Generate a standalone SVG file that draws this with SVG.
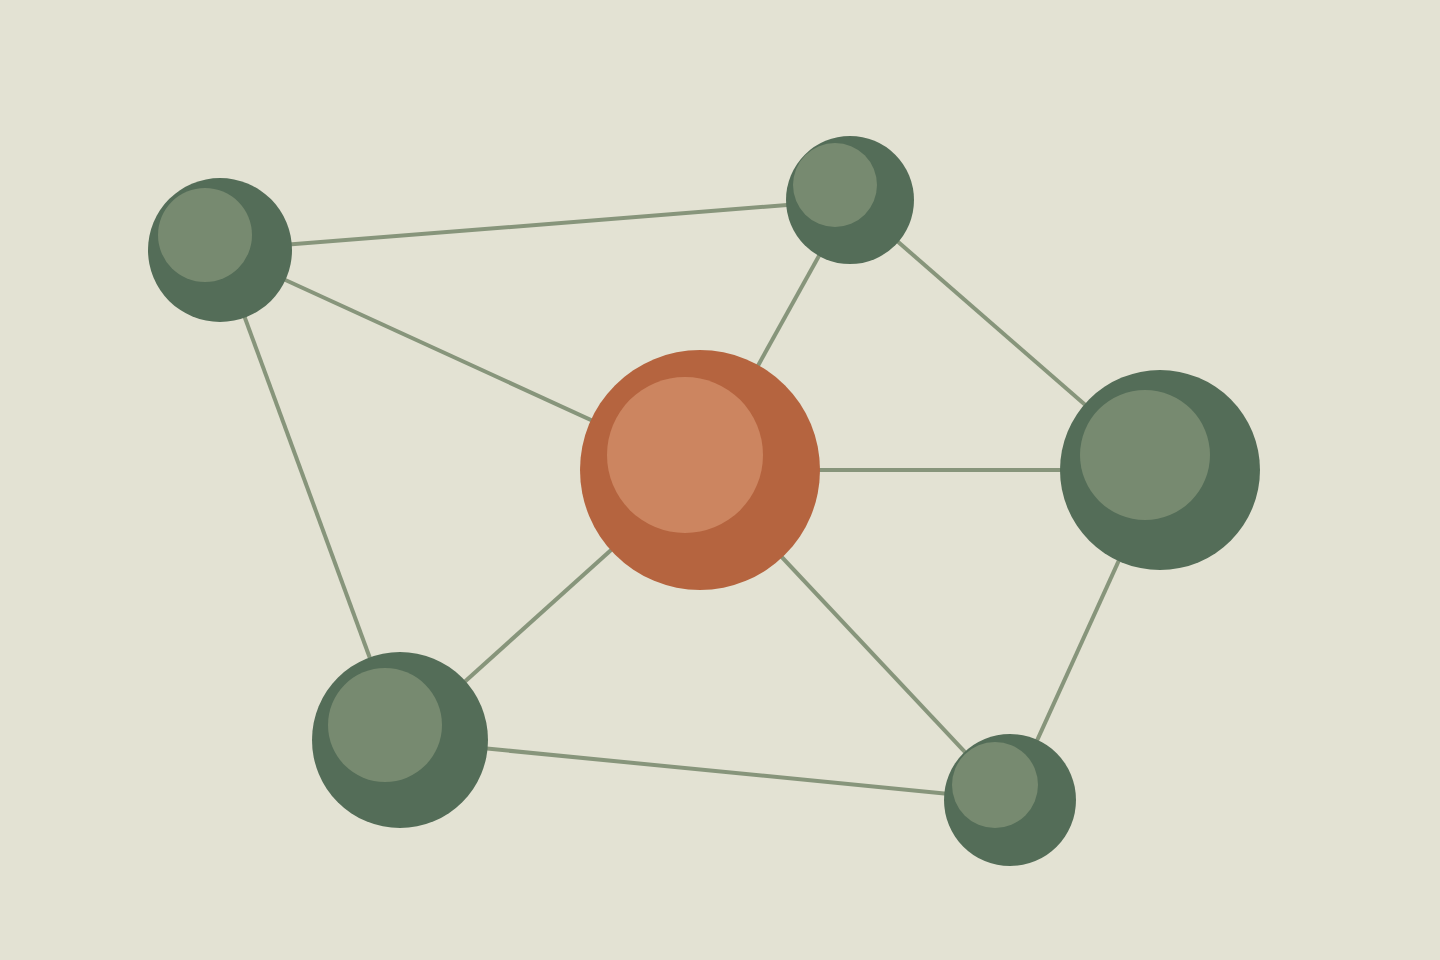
<svg xmlns="http://www.w3.org/2000/svg" width="1440" height="960" viewBox="0 0 1440 960">
<style>
.edge{stroke:#87957b;stroke-width:4;fill:none}
.go{fill:#546d58}
.gi{fill:#778a70}
.oo{fill:#b5643f}
.oi{fill:#cc8560}
</style>
<rect width="1440" height="960" fill="#e3e2d3"/>
<g id="connectors">
<line class="edge" x1="220" y1="250" x2="850" y2="200"/>
<line class="edge" x1="220" y1="250" x2="700" y2="470"/>
<line class="edge" x1="220" y1="250" x2="400" y2="740"/>
<line class="edge" x1="850" y1="200" x2="700" y2="470"/>
<line class="edge" x1="850" y1="200" x2="1160" y2="470"/>
<line class="edge" x1="700" y1="470" x2="1160" y2="470"/>
<line class="edge" x1="700" y1="470" x2="400" y2="740"/>
<line class="edge" x1="700" y1="470" x2="1010" y2="800"/>
<line class="edge" x1="1160" y1="470" x2="1010" y2="800"/>
<line class="edge" x1="400" y1="740" x2="1010" y2="800"/>
</g>
<g id="node-center"><circle class="oo" cx="700" cy="470" r="120"/><circle class="oi" cx="685" cy="455" r="78"/></g>
<g id="node-topleft"><circle class="go" cx="220" cy="250" r="72"/><circle class="gi" cx="205" cy="235" r="47"/></g>
<g id="node-top"><circle class="go" cx="850" cy="200" r="64"/><circle class="gi" cx="835" cy="185" r="42"/></g>
<g id="node-right"><circle class="go" cx="1160" cy="470" r="100"/><circle class="gi" cx="1145" cy="455" r="65"/></g>
<g id="node-bottomleft"><circle class="go" cx="400" cy="740" r="88"/><circle class="gi" cx="385" cy="725" r="57"/></g>
<g id="node-bottomright"><circle class="go" cx="1010" cy="800" r="66"/><circle class="gi" cx="995" cy="785" r="43"/></g>
</svg>
